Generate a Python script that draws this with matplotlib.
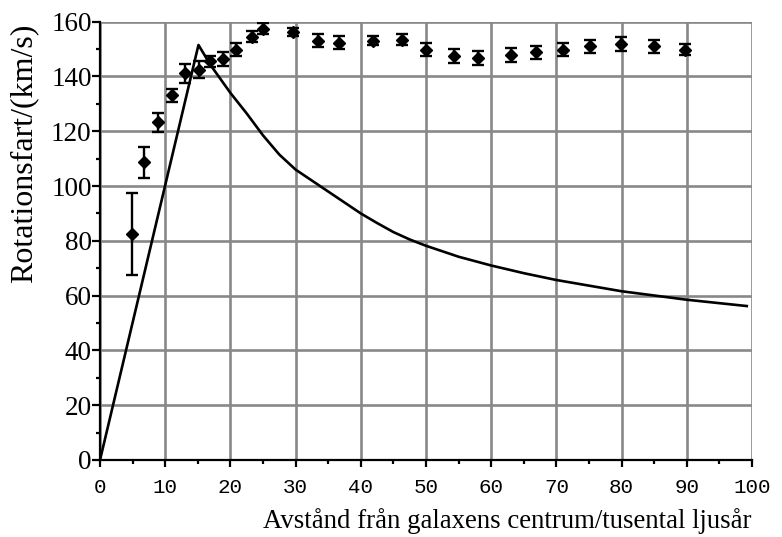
import matplotlib
matplotlib.use("Agg")
import matplotlib.pyplot as plt
from matplotlib.ticker import MultipleLocator

# Observed rotation speeds (with error bars)
obs_r = [4.9, 6.8, 8.9, 11.0, 13.0, 15.2, 16.9, 18.8, 20.8, 23.3, 25.0, 29.6,
         33.4, 36.7, 41.8, 46.3, 50.0, 54.3, 58.0, 63.1, 66.9, 71.0, 75.2,
         79.9, 85.0, 89.7]
obs_v = [82.5, 108.6, 123.3, 133.1, 141.2, 142.5, 145.5, 146.3, 149.8, 154.5,
         157.4, 156.1, 153.1, 152.4, 153.1, 153.4, 149.8, 147.6, 146.7, 147.9,
         148.8, 149.8, 151.0, 151.8, 151.0, 149.8]
obs_err = [15.0, 5.5, 3.5, 2.5, 3.5, 3.0, 2.0, 2.5, 2.5, 2.0, 2.0, 1.5,
           2.5, 2.5, 1.5, 2.0, 2.5, 2.5, 2.5, 2.5, 2.5, 2.5, 2.5, 2.5, 2.5, 2.0]

# Expected curve
curve_r = [0, 15.1, 17.0, 20.0, 22.5, 25.0, 27.5, 30.0, 32.5, 35.0, 37.5,
           40.0, 42.5, 45.0, 47.5, 50.0, 55.0, 60.0, 65.0, 70.0, 80.0, 90.0,
           99.2]
curve_v = [0, 151.5, 144.0, 134.0, 126.5, 118.5, 111.5, 106.0, 102.0, 98.0,
           94.0, 90.0, 86.5, 83.2, 80.5, 78.2, 74.2, 71.0, 68.2, 65.7, 61.6,
           58.5, 56.2]

x_ticks = list(range(0, 101, 10))
y_ticks = list(range(0, 161, 20))

fig = plt.figure(figsize=(7.82, 5.37), dpi=100)
ax = fig.add_axes([0.1279, 0.1434, 0.8337, 0.8162])

ax.set_xlim(0, 100)
ax.set_ylim(0, 160)
ax.set_xticks(x_ticks)
ax.set_yticks(y_ticks)
ax.xaxis.set_minor_locator(MultipleLocator(5))
ax.yaxis.set_minor_locator(MultipleLocator(10))

ax.grid(True, which="major", color="#888888", linewidth=1.9, zorder=0)
ax.set_axisbelow(True)

for s in ["top", "right"]:
    ax.spines[s].set_visible(False)
for s in ["left", "bottom"]:
    ax.spines[s].set_linewidth(1.6)
    ax.spines[s].set_color("black")
    ax.spines[s].set_zorder(5)

ax.tick_params(axis="x", which="major", direction="out", length=5, width=1.6, pad=8)
ax.tick_params(axis="x", which="minor", direction="out", length=3, width=1.6)
ax.tick_params(axis="y", which="major", direction="out", length=6, width=1.6, pad=0)
ax.tick_params(axis="y", which="minor", direction="out", length=3, width=1.6)

for lab in ax.get_xticklabels():
    lab.set_fontfamily("Liberation Mono")
    lab.set_fontsize(15)
for lab in ax.get_yticklabels():
    lab.set_fontfamily("Liberation Serif")
    lab.set_fontsize(19.5)

ax.plot(curve_r, curve_v, color="black", linewidth=1.9, zorder=3)
ax.errorbar(obs_r, obs_v, yerr=obs_err, fmt="D", color="black",
            markersize=6, elinewidth=1.7, capsize=4, capthick=1.7, zorder=4)

fig.text(0.9616, 0.017, "Avstånd från galaxens centrum/tusental ljusår",
         ha="right", va="baseline", fontfamily="Liberation Serif", fontsize=19.3)
fig.text(0.030, 0.715, "Rotationsfart/(km/s)", rotation=90, ha="center",
         va="center", fontfamily="Liberation Serif", fontsize=23)

fig.savefig("out.png", dpi=100)
